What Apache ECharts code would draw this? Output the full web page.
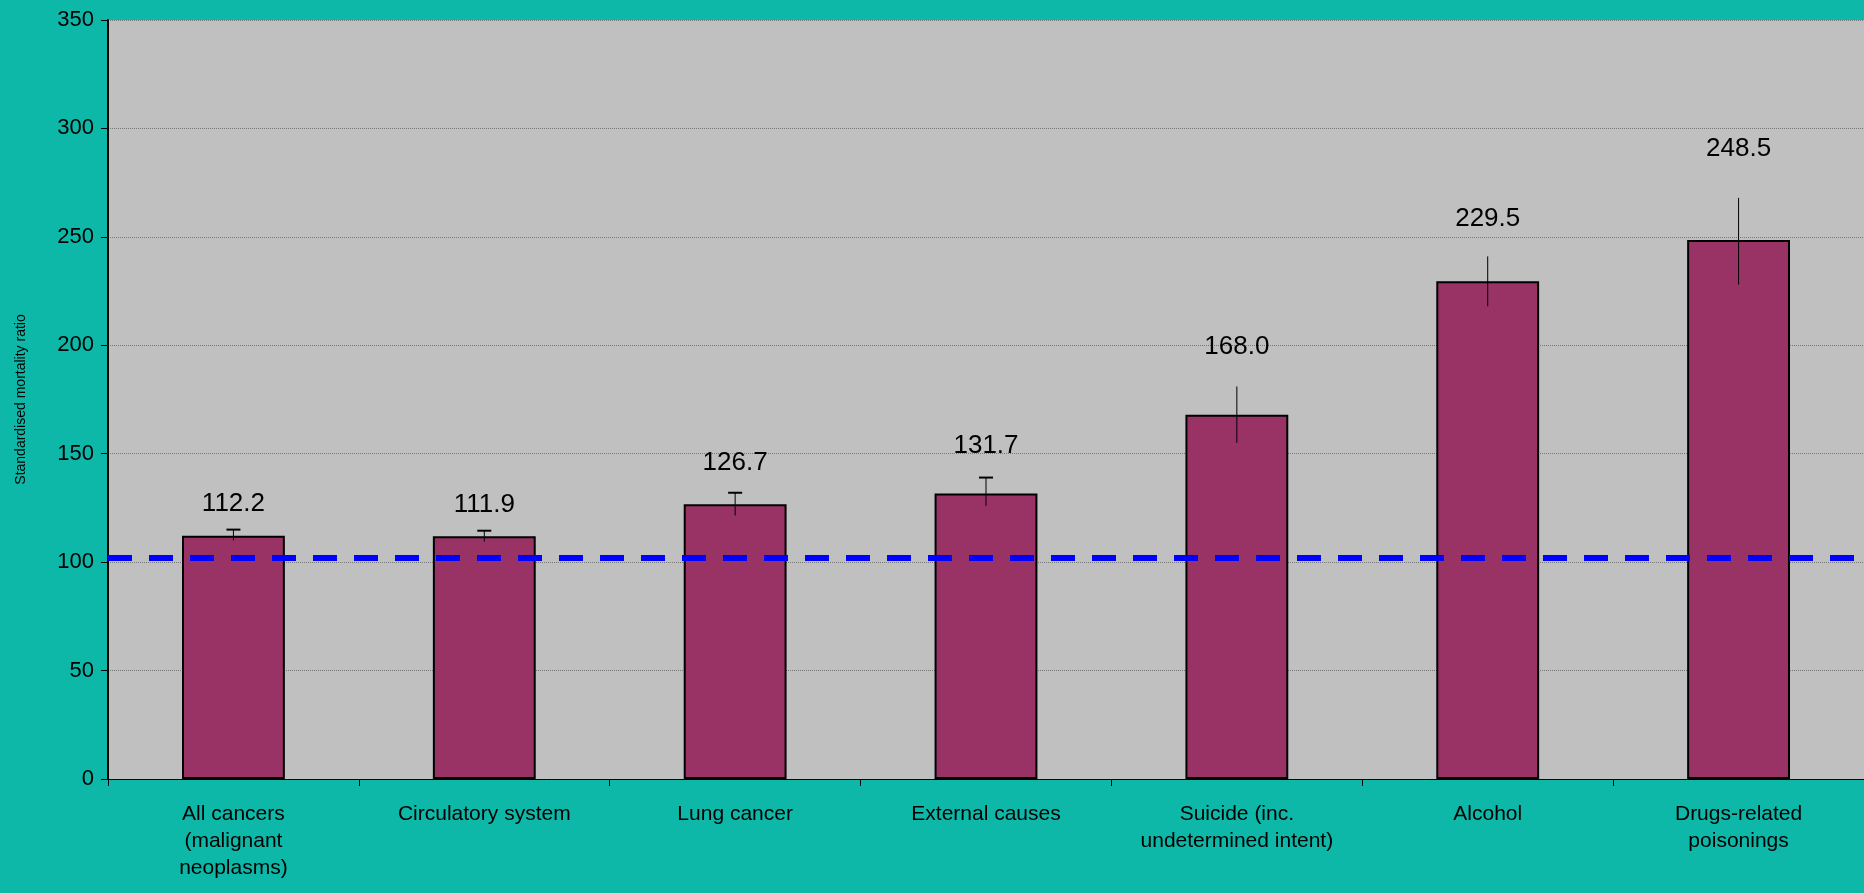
<!DOCTYPE html>
<html><head><meta charset="utf-8">
<script src="https://cdn.jsdelivr.net/npm/echarts@6/dist/echarts.min.js"></script>
<style>html,body{margin:0;padding:0;background:#0DB8A8}#c{width:1864px;height:893px}</style>
</head><body><div id="c"></div>
<script>
const categories = ['All cancers\n(malignant\nneoplasms)','Circulatory system','Lung cancer','External causes','Suicide (inc.\nundetermined intent)','Alcohol','Drugs-related\npoisonings'];
const values = [112.2,111.9,126.7,131.7,168.0,229.5,248.5];
const lower = [110,109.5,121.5,126,155,218,228];
const upper = [115,114.5,132,139,181,241,268];
const yTicks = [0,50,100,150,200,250,300,350];
const referenceLine = 102;

const chart = echarts.init(document.getElementById('c'));
chart.setOption({
  backgroundColor:'#0DB8A8',
  animation:false,
  grid:{left:108,right:0,top:20,bottom:114,backgroundColor:'#C0C0C0',show:true,borderWidth:0},
  xAxis:{type:'category',data:categories,
    axisLine:{lineStyle:{color:'#000',width:1}},
    axisTick:{show:true,alignWithLabel:false,length:7,lineStyle:{color:'#000'}},
    axisLabel:{color:'#000',fontFamily:'Liberation Sans, Arial',fontSize:21,lineHeight:27,margin:22,interval:0}},
  yAxis:{type:'value',min:0,max:350,interval:50,
    name:'Standardised mortality ratio',nameLocation:'middle',nameGap:80,nameRotate:90,
    nameTextStyle:{color:'#000',fontFamily:'Liberation Sans, Arial',fontSize:14},
    axisLine:{show:true,lineStyle:{color:'#000',width:2}},
    axisTick:{show:true,length:7,lineStyle:{color:'#000'}},
    axisLabel:{color:'#000',fontFamily:'Liberation Sans, Arial',fontSize:22,margin:14,
      formatter:v=>yTicks.includes(v)?String(v):''},
    splitLine:{lineStyle:{color:'#777',type:'dotted',width:1}}},
  series:[
    {type:'bar',data:values,barWidth:'41%',
      itemStyle:{color:'#993366',borderColor:'#000',borderWidth:2},
      markLine:{silent:true,symbol:'none',label:{show:false},
        lineStyle:{color:'#0000FF',type:[24,17],width:6},
        data:[{yAxis:referenceLine}]},
      z:2},
    {type:'custom',z:5,data:values.map((v,i)=>[i,lower[i],upper[i],v]),
      renderItem:(p,api)=>{
        const i=api.value(0);
        const x=api.coord([i,0])[0];
        const lo=api.coord([i,api.value(1)])[1];
        const hi=api.coord([i,api.value(2)])[1];
        const v=api.value(3);
        const kids=[{type:'line',shape:{x1:x,y1:lo,x2:x,y2:hi},style:{stroke:'#000',lineWidth:1}}];
        if(i<4) kids.push({type:'line',shape:{x1:x-7,y1:hi,x2:x+7,y2:hi},style:{stroke:'#000',lineWidth:2}});
        const off=10+0.3*(lo-hi);
        kids.push({type:'text',x:x,y:hi-off,style:{text:v.toFixed(1),fill:'#000',fontSize:26,fontFamily:'Liberation Sans, Arial',align:'center',verticalAlign:'bottom'}});
        return {type:'group',children:kids};
      }}
  ]
});
</script></body></html>
